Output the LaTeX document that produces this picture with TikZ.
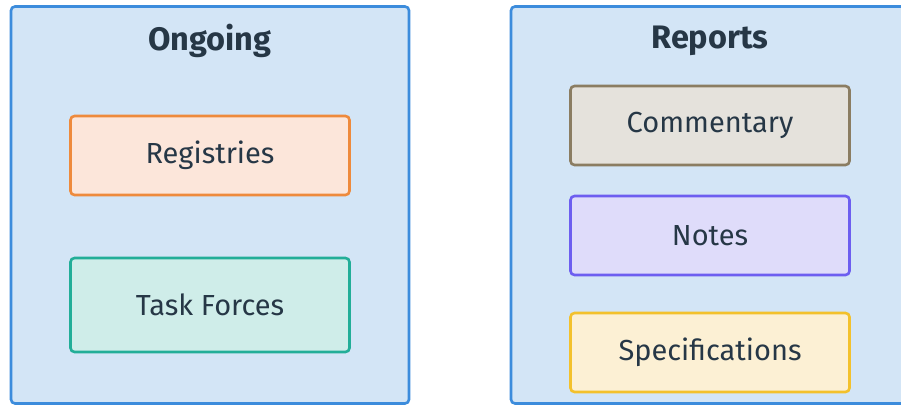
\documentclass[tikz,border=0pt]{standalone}
\usepackage{fontspec}
\setmainfont{Fira Sans}
\usepackage{xcolor}
\usepackage{tikz}
\definecolor{ink}{HTML}{263746}
\definecolor{panelfill}{HTML}{D3E5F6}
\definecolor{panelline}{HTML}{3C8CDC}
\definecolor{regfill}{HTML}{FCE6DA}
\definecolor{regline}{HTML}{EE8A3C}
\definecolor{taskfill}{HTML}{CFEDE9}
\definecolor{taskline}{HTML}{22AE98}
\definecolor{comfill}{HTML}{E5E2DC}
\definecolor{comline}{HTML}{8B7D62}
\definecolor{notefill}{HTML}{DFDCFA}
\definecolor{noteline}{HTML}{6D5EF0}
\definecolor{specfill}{HTML}{FCF0D4}
\definecolor{specline}{HTML}{F3C12C}

\begin{document}
\begin{tikzpicture}[x=1pt,y=-1pt,
  panel/.style={draw=panelline,fill=panelfill,line width=2.6pt,rounded corners=4pt,
    minimum width=398pt,minimum height=397pt,inner sep=0pt},
  item/.style={line width=2.6pt,rounded corners=4pt,minimum width=279pt,inner sep=0pt,
    text=ink,font=\fontsize{29}{34}\selectfont},
  title/.style={text=ink,font=\fontsize{32.5}{38}\selectfont\bfseries}]
\useasboundingbox (0,0) rectangle (901,406);
% two panels
\node[panel] (ongoing) at (210,205) {};
\node[panel] (reports) at (710,205) {};
\node[title] (ongoingtitle) at (210,41) {Ongoing};
\node[title] (reportstitle) at (710,41) {Reports};
% left column
\foreach \nm/\yy/\hh/\cc/\txt in {reg/155.5/79/reg/Registries,task/305/94/task/Task Forces}{
  \node[item,draw=\cc line,fill=\cc fill,minimum height=\hh] (\nm) at (210,\yy) {\txt};}
% right column
\foreach \nm/\yy/\cc/\txt in {com/125.5/com/Commentary,notes/235.5/note/Notes,spec/352.5/spec/Specifications}{
  \node[item,draw=\cc line,fill=\cc fill,minimum height=79] (\nm) at (710,\yy) {\txt};}
\end{tikzpicture}
\end{document}
